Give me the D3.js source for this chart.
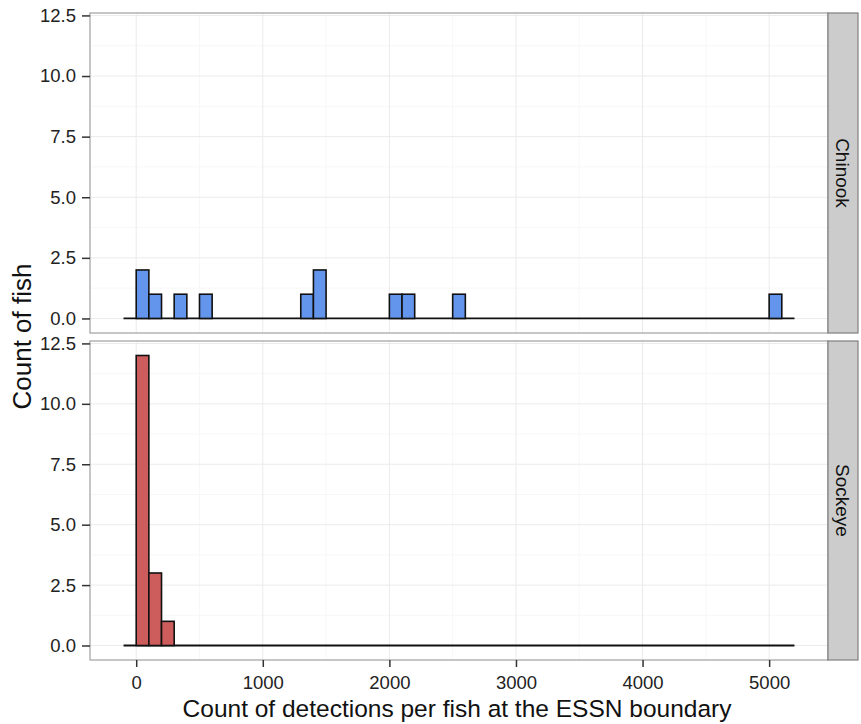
<!DOCTYPE html>
<html lang="en">
<head>
    <script src="https://d3js.org/d3.v7.min.js"></script>
    <style>
        body { margin: 0; background: #fff; }
        svg text { font-family: "Liberation Sans", Arial, sans-serif; }
    </style>
</head>
<body>
<script>
    // histogram data, binwidth 100
    var binStarts = [0, 100, 300, 500, 1300, 1400, 2000, 2100, 2500, 5000];
    var chinookCounts = [2, 1, 1, 1, 1, 2, 1, 1, 1, 1];
    var sockeyeStarts = [0, 100, 200];
    var sockeyeCounts = [12, 3, 1];
    var species = ["Chinook", "Sockeye"];
    var fills = ["#6495ED", "#CD5C5C"];
    var xTicks = [0, 1000, 2000, 3000, 4000, 5000];
    var yTicks = [0, 2.5, 5, 7.5, 10, 12.5];
    var binWidth = 100;
    var binRange = [-100, 5200];

    var width = 861, height = 724;
    var left = 90, right = 828, stripW = 30;
    var panels = [{top: 13, bottom: 333}, {top: 341, bottom: 660}];

    var svg = d3.select("body").append("svg")
        .attr("width", width).attr("height", height);

    var x = d3.scaleLinear().domain([-365, 5465]).range([left, right]);
    var xMinor = [500, 1500, 2500, 3500, 4500];
    var yMinor = [1.25, 3.75, 6.25, 8.75, 11.25];

    var data = [
        binStarts.map(function(s, i) { return {x0: s, n: chinookCounts[i]}; }),
        sockeyeStarts.map(function(s, i) { return {x0: s, n: sockeyeCounts[i]}; })
    ];

    panels.forEach(function(p, k) {
        var y = d3.scaleLinear().domain([-0.6, 12.6]).range([p.bottom, p.top]);
        var g = svg.append("g");

        g.append("rect").attr("x", left).attr("y", p.top)
            .attr("width", right - left).attr("height", p.bottom - p.top)
            .attr("fill", "white");

        // grid
        g.selectAll(".xmin").data(xMinor).enter().append("line")
            .attr("x1", d => x(d)).attr("x2", d => x(d))
            .attr("y1", p.top).attr("y2", p.bottom)
            .attr("stroke", "#F7F7F7").attr("stroke-width", 1);
        g.selectAll(".ymin").data(yMinor).enter().append("line")
            .attr("y1", d => y(d)).attr("y2", d => y(d))
            .attr("x1", left).attr("x2", right)
            .attr("stroke", "#F7F7F7").attr("stroke-width", 1);
        g.selectAll(".xmaj").data(xTicks).enter().append("line")
            .attr("x1", d => x(d)).attr("x2", d => x(d))
            .attr("y1", p.top).attr("y2", p.bottom)
            .attr("stroke", "#EBEBEB").attr("stroke-width", 1);
        g.selectAll(".ymaj").data(yTicks).enter().append("line")
            .attr("y1", d => y(d)).attr("y2", d => y(d))
            .attr("x1", left).attr("x2", right)
            .attr("stroke", "#EBEBEB").attr("stroke-width", 1);

        // zero-height bins
        g.append("line")
            .attr("x1", x(binRange[0])).attr("x2", x(binRange[1]))
            .attr("y1", y(0)).attr("y2", y(0))
            .attr("stroke", "#111").attr("stroke-width", 1.8);

        g.selectAll(".bar").data(data[k]).enter().append("rect")
            .attr("x", d => x(d.x0))
            .attr("width", d => x(d.x0 + binWidth) - x(d.x0))
            .attr("y", d => y(d.n))
            .attr("height", d => y(0) - y(d.n))
            .attr("fill", fills[k])
            .attr("stroke", "#111").attr("stroke-width", 1.6);

        g.append("rect").attr("x", left).attr("y", p.top)
            .attr("width", right - left).attr("height", p.bottom - p.top)
            .attr("fill", "none").attr("stroke", "#A0A0A0").attr("stroke-width", 1.2);

        // y axis
        var yAxis = d3.axisLeft(y).tickValues(yTicks)
            .tickFormat(d3.format(".1f")).tickSize(8).tickPadding(6);
        var ya = svg.append("g").attr("transform", "translate(" + left + ",0)").call(yAxis);
        ya.select(".domain").remove();
        ya.selectAll("line").attr("stroke", "#333").attr("stroke-width", 1.5);
        ya.selectAll("text").attr("font-size", 18.5).attr("fill", "#222");

        // strip
        svg.append("rect").attr("x", right).attr("y", p.top)
            .attr("width", stripW).attr("height", p.bottom - p.top)
            .attr("fill", "#CCCCCC").attr("stroke", "#7F7F7F").attr("stroke-width", 1.2);
        svg.append("text")
            .attr("transform", "translate(" + (right + stripW / 2) + "," + ((p.top + p.bottom) / 2) + ") rotate(90)")
            .attr("text-anchor", "middle").attr("dy", "0.35em")
            .attr("font-size", 19).attr("fill", "#111")
            .text(species[k]);
    });

    // x axis
    var xAxis = d3.axisBottom(x).tickValues(xTicks)
        .tickFormat(d3.format("d")).tickSize(7).tickPadding(9);
    var xa = svg.append("g").attr("transform", "translate(0," + panels[1].bottom + ")").call(xAxis);
    xa.select(".domain").remove();
    xa.selectAll("line").attr("stroke", "#333").attr("stroke-width", 1.5);
    xa.selectAll("text").attr("font-size", 18.5).attr("fill", "#222");

    svg.append("text")
        .attr("x", 457).attr("y", 717)
        .attr("text-anchor", "middle").attr("font-size", 24.5).attr("fill", "#111")
        .text("Count of detections per fish at the ESSN boundary");

    svg.append("text")
        .attr("transform", "translate(31," + ((panels[0].top + panels[1].bottom) / 2) + ") rotate(-90)")
        .attr("text-anchor", "middle").attr("font-size", 26).attr("fill", "#111")
        .text("Count of fish");
</script>
</body>
</html>
